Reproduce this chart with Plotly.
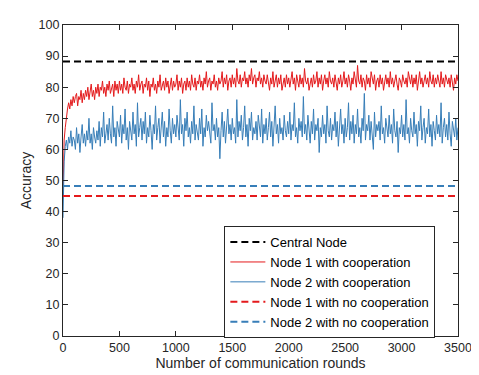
import plotly.graph_objects as go

# communication rounds sampled every 10 rounds
rounds = list(range(0, 3501, 10))

central_node = 88.3
node1_no_coop = 45.0
node2_no_coop = 48.2

node1_coop = [
    45, 63, 67, 71, 73, 75, 73, 76, 74, 77,
    75, 77, 78, 74, 77, 76, 79, 75, 78, 76,
    79, 77, 80, 76, 78, 81, 77, 79, 76, 80,
    78, 81, 77, 80, 79, 82, 78, 80, 77, 81,
    79, 82, 78, 80, 81, 77, 82, 79, 81, 78,
    82, 79, 81, 78, 83, 80, 79, 82, 78, 81,
    80, 83, 79, 81, 78, 82, 80, 84, 79, 81,
    82, 78, 81, 80, 83, 79, 82, 77, 81, 80,
    83, 79, 81, 78, 82, 80, 84, 79, 81, 82,
    79, 83, 80, 82, 78, 81, 83, 79, 82, 80,
    81, 84, 79, 82, 80, 83, 78, 81, 82, 79,
    83, 80, 82, 79, 84, 81, 80, 83, 79, 82,
    81, 84, 80, 82, 79, 83, 81, 85, 80, 82,
    83, 79, 82, 81, 84, 80, 82, 79, 83, 81,
    82, 85, 80, 83, 81, 84, 79, 82, 83, 80,
    84, 81, 83, 80, 86, 82, 81, 84, 80, 83,
    82, 85, 81, 83, 80, 84, 82, 86, 81, 83,
    84, 80, 83, 82, 85, 81, 83, 80, 84, 82,
    81, 84, 82, 79, 83, 81, 85, 80, 82, 84,
    80, 83, 81, 84, 79, 82, 83, 80, 84, 81,
    83, 80, 82, 85, 81, 83, 79, 84, 82, 80,
    84, 81, 83, 80, 86, 82, 81, 83, 79, 82,
    83, 80, 84, 81, 82, 85, 80, 83, 81, 84,
    79, 82, 84, 81, 83, 80, 85, 82, 81, 83,
    80, 84, 82, 79, 83, 81, 84, 80, 82, 85,
    81, 83, 80, 84, 82, 79, 83, 81, 85, 82,
    80, 87, 82, 81, 84, 80, 83, 82, 79, 84,
    81, 83, 80, 85, 82, 81, 84, 79, 82, 83,
    80, 84, 81, 83, 79, 82, 84, 81, 83, 80,
    85, 81, 83, 80, 82, 84, 81, 79, 83, 82,
    80, 84, 82, 81, 83, 80, 85, 82, 81, 84,
    80, 83, 81, 84, 79, 82, 85, 81, 83, 80,
    82, 84, 81, 83, 80, 85, 82, 81, 84, 80,
    83, 81, 84, 82, 80, 85, 81, 83, 80, 84,
    82, 81, 83, 80, 84, 82, 79, 83, 81, 84,
    82,
]

node2_coop = [
    38, 56, 61, 63, 60, 64, 62, 66, 61, 64,
    63, 60, 67, 62, 65, 59, 64, 68, 62, 65,
    61, 66, 63, 70, 62, 65, 60, 67, 64, 62,
    66, 63, 69, 61, 67, 64, 72, 62, 65, 68,
    63, 70, 65, 62, 74, 64, 67, 61, 69, 66,
    64, 71, 62, 68, 65, 73, 63, 67, 60, 69,
    66, 63, 72, 65, 68, 61, 75, 64, 67, 70,
    63, 69, 65, 72, 62, 67, 64, 71, 66, 60,
    68, 65, 74, 63, 67, 70, 62, 66, 72, 64,
    69, 61, 67, 64, 73, 66, 62, 70, 65, 68,
    64, 71, 66, 63, 76, 65, 68, 61, 70, 66,
    72, 64, 67, 62, 69, 65, 74, 63, 68, 66,
    63, 70, 65, 73, 61, 67, 64, 71, 66, 69,
    65, 62, 75, 66, 68, 63, 70, 64, 67, 57,
    66, 72, 64, 69, 62, 67, 73, 65, 68, 63,
    70, 65, 67, 62, 76, 64, 69, 66, 71, 63,
    67, 74, 64, 68, 61, 70, 66, 72, 63, 67,
    65, 69, 63, 71, 66, 64, 73, 62, 68, 65,
    70, 63, 67, 72, 64, 69, 61, 66, 74, 65,
    68, 62, 70, 65, 67, 63, 71, 66, 64, 69,
    65, 72, 63, 68, 66, 75, 64, 67, 62, 70,
    66, 69, 64, 77, 65, 68, 63, 71, 66, 62,
    69, 65, 73, 63, 68, 66, 70, 59, 67, 64,
    71, 65, 68, 62, 74, 66, 64, 70, 63, 68,
    66, 72, 64, 69, 61, 67, 73, 65, 68, 62,
    70, 64, 67, 75, 63, 69, 65, 71, 62, 68,
    65, 73, 64, 67, 62, 70, 66, 78, 63, 68,
    66, 71, 63, 69, 65, 60, 72, 64, 68, 66,
    69, 63, 74, 65, 67, 62, 70, 66, 64, 71,
    65, 68, 62, 73, 66, 64, 69, 59, 67, 65,
    71, 64, 68, 63, 76, 65, 67, 62, 70, 66,
    64, 72, 65, 68, 61, 69, 66, 74, 63, 67,
    70, 62, 67, 65, 73, 64, 68, 61, 69, 66,
    63, 71, 65, 68, 64, 75, 62, 67, 70, 64,
    68, 63, 72, 65, 61, 69, 66, 64, 70, 63,
    67,
]

RED = '#e41a1c'
BLUE = '#377eb8'
AXIS = '#262626'
FONT = 'Liberation Sans, Arial, sans-serif'

x_end = [rounds[0], rounds[-1]]

fig = go.Figure()
fig.add_trace(go.Scatter(
    x=x_end, y=[central_node] * 2, mode='lines', name='Central Node',
    line=dict(color='black', width=2, dash='7px,4px')))
fig.add_trace(go.Scatter(
    x=rounds, y=node1_coop, mode='lines', name='Node 1 with cooperation',
    line=dict(color=RED, width=1)))
fig.add_trace(go.Scatter(
    x=rounds, y=node2_coop, mode='lines', name='Node 2 with cooperation',
    line=dict(color=BLUE, width=1)))
fig.add_trace(go.Scatter(
    x=x_end, y=[node1_no_coop] * 2, mode='lines', name='Node 1 with no cooperation',
    line=dict(color=RED, width=2, dash='7px,4px')))
fig.add_trace(go.Scatter(
    x=x_end, y=[node2_no_coop] * 2, mode='lines', name='Node 2 with no cooperation',
    line=dict(color=BLUE, width=2, dash='7px,4px')))

axis_style = dict(
    showgrid=False, zeroline=False, showline=True, mirror='ticks',
    linecolor=AXIS, linewidth=1.2, ticks='inside', ticklen=5,
    tickcolor=AXIS, tickfont=dict(size=12.5, color=AXIS, family=FONT),
    automargin=False,
)

# the page body adds an 8px offset, so the figure is sized to fit the window
fig.update_layout(
    width=471, height=367,
    margin=dict(l=55, r=21, t=17, b=39),
    paper_bgcolor='white', plot_bgcolor='white',
    font=dict(family=FONT, color=AXIS),
    xaxis=dict(range=[0, 3500], dtick=500, **axis_style,
               title=dict(text='Number of communication rounds',
                          font=dict(size=14, color=AXIS), standoff=2)),
    yaxis=dict(range=[0, 100], dtick=10, **axis_style,
               title=dict(text='Accuracy', font=dict(size=14, color=AXIS), standoff=3)),
    legend=dict(x=0.408, y=0.354, xanchor='left', yanchor='top',
                bgcolor='white', bordercolor=AXIS, borderwidth=1.2,
                font=dict(size=13, color='black', family=FONT),
                itemwidth=35, tracegroupgap=0),
    showlegend=True,
)

fig.write_html("out.html")
